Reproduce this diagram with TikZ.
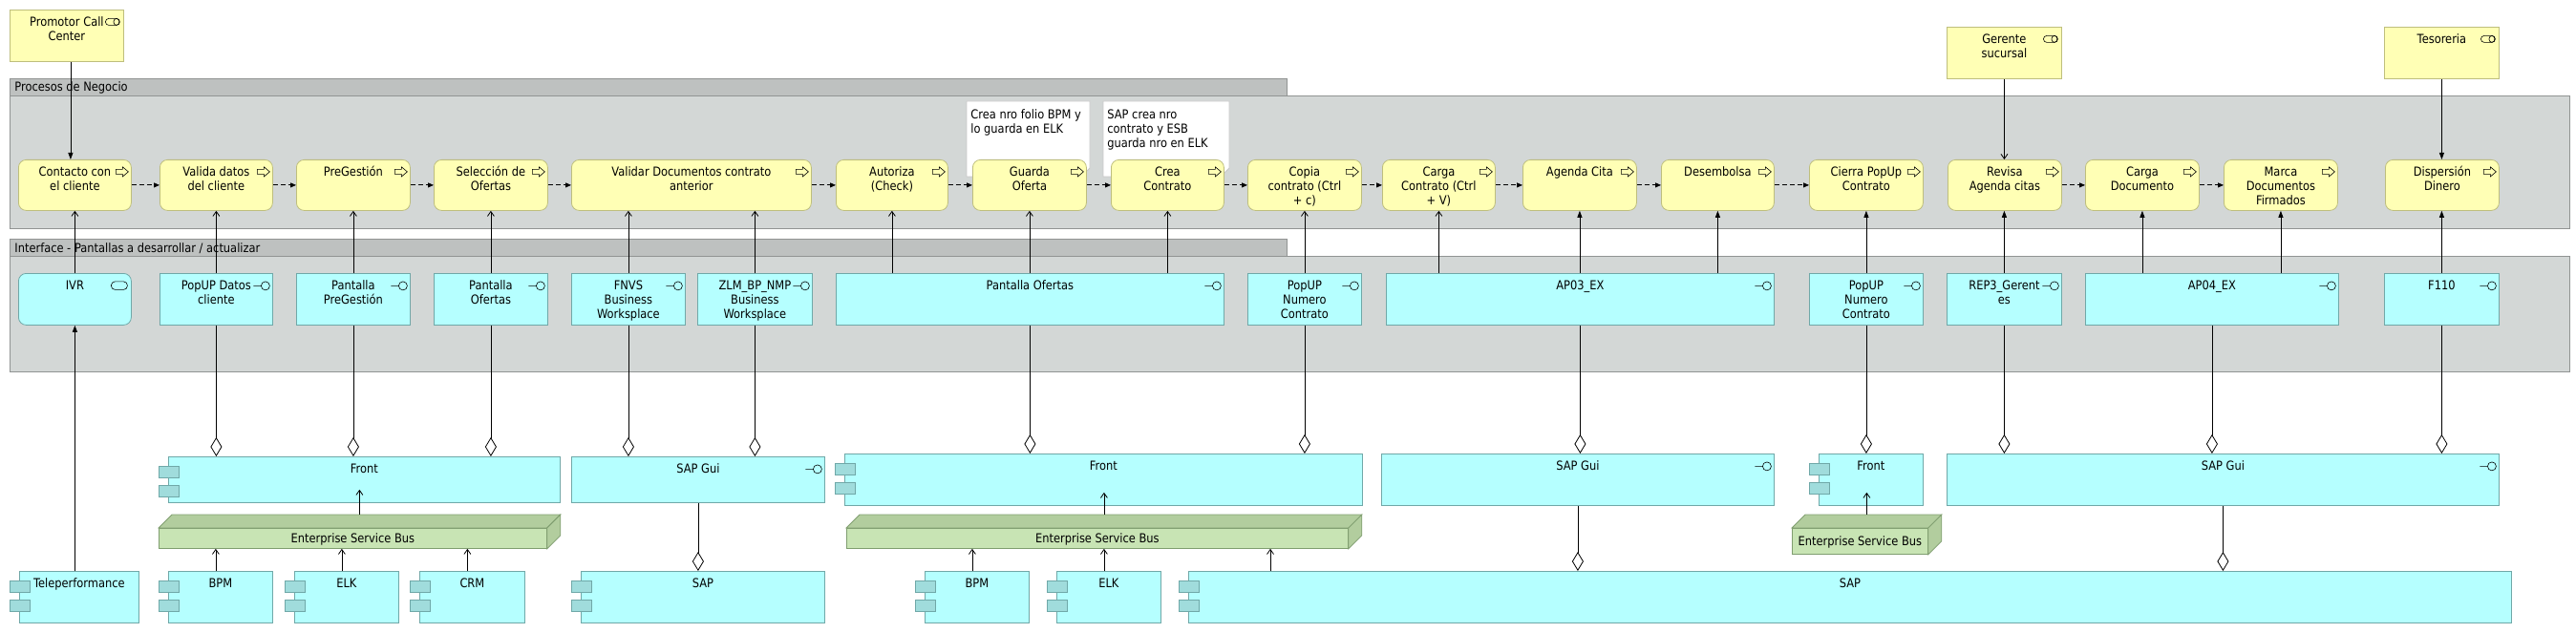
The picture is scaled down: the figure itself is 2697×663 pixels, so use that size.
\documentclass[tikz,border=0pt]{standalone}
\usepackage{fontspec}
\setmainfont{DejaVu Sans}[FakeStretch=0.88]
\usetikzlibrary{arrows.meta}

\definecolor{procfill}{RGB}{255,255,181}
\definecolor{procline}{RGB}{190,190,125}
\definecolor{appfill}{RGB}{181,255,255}
\definecolor{appline}{RGB}{112,168,168}
\definecolor{tabfill}{RGB}{160,220,220}
\definecolor{grpbody}{RGB}{211,215,214}
\definecolor{grphead}{RGB}{190,193,192}
\definecolor{grpline}{RGB}{145,148,147}
\definecolor{esbfront}{RGB}{200,228,180}
\definecolor{esbside}{RGB}{178,205,158}
\definecolor{esbline}{RGB}{128,158,112}
\definecolor{noteline}{RGB}{200,200,200}

\newcommand{\tstrut}{\rule{0pt}{10pt}}
\newcommand{\comptabs}[1]{%
  \draw[tab] ([shift={(-10pt,-10pt)}]#1.north west) rectangle ++(21pt,-12pt);
  \draw[tab] ([shift={(-10pt,-30pt)}]#1.north west) rectangle ++(21pt,-12pt);}
\newcommand{\nodedepth}[1]{%
  \draw[esbtop] (#1.north west) -- ++(14pt,14pt) -- ([shift={(14pt,14pt)}]#1.north east) -- (#1.north east) -- cycle;
  \draw[esbtop] (#1.north east) -- ++(14pt,14pt) -- ([shift={(14pt,14pt)}]#1.south east) -- (#1.south east) -- cycle;}

\tikzset{
  boxtext/.style={anchor=north, yshift=-7pt, align=center, inner sep=0pt},
  txt/.style={label={[boxtext]north:{\tstrut #1}}},
  elem/.style={anchor=north west, inner sep=0pt, minimum height=54pt},
  grp/.style={draw=grpline},
  role/.style={elem, draw=procline, fill=procfill, path picture={
      \draw[black, line width=0.6pt, rounded corners=3.5pt] ([shift={(-19pt,-9pt)}]path picture bounding box.north east) rectangle ++(15pt,-7pt);
      \draw[black, line width=0.6pt] ([shift={(-7.5pt,-12.5pt)}]path picture bounding box.north east) ellipse[x radius=3pt, y radius=3.5pt];}},
  proc/.style={elem, minimum height=53pt, rounded corners=8pt, draw=procline, fill=procfill, path picture={
      \draw[black, line width=0.6pt, sharp corners] ([shift={(-16pt,-10pt)}]path picture bounding box.north east)
        -- ++(7pt,0pt) -- ++(0pt,2.5pt) -- ++(6pt,-5pt) -- ++(-6pt,-5pt) -- ++(0pt,2.5pt) -- ++(-7pt,0pt) -- cycle;}},
  intf/.style={elem, draw=appline, fill=appfill, path picture={
      \draw[black, line width=0.6pt] ([shift={(-20pt,-13pt)}]path picture bounding box.north east)
        -- ++(8pt,0pt) ++(4.5pt,0pt) circle[radius=4.5pt];}},
  svc/.style={elem, rounded corners=8pt, draw=appline, fill=appfill, path picture={
      \draw[black, line width=0.6pt, rounded corners=4pt] ([shift={(-21pt,-8.5pt)}]path picture bounding box.north east) rectangle ++(17pt,-8.5pt);}},
  comp/.style={elem, draw=appline, fill=appfill},
  tab/.style={draw=appline, fill=tabfill},
  esb/.style={anchor=north west, inner sep=0pt, minimum height=21pt, text depth=0pt, draw=esbline, fill=esbfront},
  esbtop/.style={draw=esbline, fill=esbside},
  flow/.style={dash pattern=on 5pt off 3pt, -{Triangle[length=6pt,width=5pt]}},
  trig/.style={-{Triangle[length=7pt,width=5pt]}},
  used/.style={-{Straight Barb[length=5pt,width=7pt]}},
  aggr/.style={-{Diamond[open,length=20pt,width=12pt]}}
}

\begin{document}
\begin{tikzpicture}[x=1pt, y=-1pt, font=\fontsize{13}{15}\selectfont, line width=0.8pt]
\useasboundingbox (0,0) rectangle (2697,663);

% Groups
\draw[grp, fill=grphead] (10,82) rectangle (1347,100);
\draw[grp, fill=grpbody] (10,100) rectangle (2690,239);
\node[anchor=base west, inner sep=0pt] (tproc) at (15,96) {Procesos de Negocio};
\draw[grp, fill=grphead] (10,250) rectangle (1347,268);
\draw[grp, fill=grpbody] (10,268) rectangle (2690,389);
\node[anchor=base west, inner sep=0pt] (tintf) at (15,264) {Interface - Pantallas a desarrollar / actualizar};

% Actors
\node[role, minimum width=119pt, txt={Promotor Call\\Center}] (promotor) at (10,10) {};
\node[role, minimum width=120pt, txt={Gerente\\sucursal}] (gerente) at (2038,28) {};
\node[role, minimum width=120pt, txt={Tesoreria}] (tesoreria) at (2496,28) {};

% Notes
\draw[noteline, fill=white] (1012,106) -- (1141,106) -- (1141,176) -- (1132,185) -- (1012,185) -- cycle;
\node[anchor=north west, inner sep=0pt, align=left] (noteA) at (1016,114) {\tstrut Crea nro folio BPM y\\lo guarda en ELK};
\draw[noteline, fill=white] (1155,106) -- (1287,106) -- (1287,176) -- (1278,185) -- (1155,185) -- cycle;
\node[anchor=north west, inner sep=0pt, align=left] (noteB) at (1159,114) {\tstrut SAP crea nro\\contrato y ESB\\guarda nro en ELK};

% Business processes
\node[proc, minimum width=118pt, txt={Contacto con\\el cliente}] (contacto) at (19,167) {};
\node[proc, minimum width=118pt, txt={Valida datos\\del cliente}] (valida) at (167,167) {};
\node[proc, minimum width=119pt, txt={PreGestión}] (pregestion) at (310,167) {};
\node[proc, minimum width=119pt, txt={Selección de\\Ofertas}] (seleccion) at (454,167) {};
\node[proc, minimum width=251pt, txt={Validar Documentos contrato\\anterior}] (valdoc) at (598,167) {};
\node[proc, minimum width=117pt, txt={Autoriza\\(Check)}] (autoriza) at (875,167) {};
\node[proc, minimum width=119pt, txt={Guarda\\Oferta}] (guarda) at (1018,167) {};
\node[proc, minimum width=118pt, txt={Crea\\Contrato}] (crea) at (1163,167) {};
\node[proc, minimum width=119pt, txt={Copia\\contrato (Ctrl\\+ c)}] (copia) at (1306,167) {};
\node[proc, minimum width=118pt, txt={Carga\\Contrato (Ctrl\\+ V)}] (carga) at (1447,167) {};
\node[proc, minimum width=119pt, txt={Agenda Cita}] (agenda) at (1594,167) {};
\node[proc, minimum width=118pt, txt={Desembolsa}] (desembolsa) at (1739,167) {};
\node[proc, minimum width=119pt, txt={Cierra PopUp\\Contrato}] (cierra) at (1894,167) {};
\node[proc, minimum width=119pt, txt={Revisa\\Agenda citas}] (revisa) at (2039,167) {};
\node[proc, minimum width=119pt, txt={Carga\\Documento}] (cargadoc) at (2183,167) {};
\node[proc, minimum width=119pt, txt={Marca\\Documentos\\Firmados}] (marca) at (2328,167) {};
\node[proc, minimum width=119pt, txt={Dispersión\\Dinero}] (dispersion) at (2497,167) {};

% Interfaces (screens)
\node[svc, minimum width=118pt, txt={IVR}] (ivr) at (19,286) {};
\node[intf, minimum width=118pt, txt={PopUP Datos\\cliente}] (popdatos) at (167,286) {};
\node[intf, minimum width=119pt, txt={Pantalla\\PreGestión}] (ppregestion) at (310,286) {};
\node[intf, minimum width=119pt, txt={Pantalla\\Ofertas}] (pofertasA) at (454,286) {};
\node[intf, minimum width=119pt, txt={FNVS\\Business\\Worksplace}] (fnvs) at (598,286) {};
\node[intf, minimum width=120pt, txt={ZLM\_BP\_NMP\\Business\\Worksplace}] (zlm) at (730,286) {};
\node[intf, minimum width=406pt, txt={Pantalla Ofertas}] (pofertasB) at (875,286) {};
\node[intf, minimum width=119pt, txt={PopUP\\Numero\\Contrato}] (popnumA) at (1306,286) {};
\node[intf, minimum width=406pt, txt={AP03\_EX}] (ap03) at (1451,286) {};
\node[intf, minimum width=119pt, txt={PopUP\\Numero\\Contrato}] (popnumB) at (1894,286) {};
\node[intf, minimum width=120pt, txt={REP3\_Gerent\\es}] (rep3) at (2038,286) {};
\node[intf, minimum width=265pt, txt={AP04\_EX}] (ap04) at (2183,286) {};
\node[intf, minimum width=120pt, txt={F110}] (f110) at (2496,286) {};

% Application layer
\node[comp, minimum width=410pt, minimum height=48pt, txt={Front}] (frontA) at (176,478) {};
\comptabs{frontA}
\node[intf, minimum width=265pt, minimum height=48pt, txt={SAP Gui}] (sapguiA) at (598,478) {};
\node[comp, minimum width=542pt, txt={Front}] (frontB) at (884,475) {};
\comptabs{frontB}
\node[intf, minimum width=411pt, txt={SAP Gui}] (sapguiB) at (1446,475) {};
\node[comp, minimum width=109pt, txt={Front}] (frontC) at (1904,475) {};
\comptabs{frontC}
\node[intf, minimum width=578pt, txt={SAP Gui}] (sapguiC) at (2038,475) {};

% Enterprise service bus
\node[esb, minimum width=406pt] (esbA) at (166,553) {Enterprise Service Bus};
\nodedepth{esbA}
\node[esb, minimum width=525pt] (esbB) at (886,553) {Enterprise Service Bus};
\nodedepth{esbB}
\node[esb, minimum width=142pt, minimum height=27pt] (esbC) at (1876,553) {Enterprise Service Bus};
\nodedepth{esbC}

% Back-end components
\node[comp, minimum width=125pt, txt={Teleperformance}] (tele) at (20,598) {};
\comptabs{tele}
\node[comp, minimum width=109pt, txt={BPM}] (bpmA) at (176,598) {};
\comptabs{bpmA}
\node[comp, minimum width=109pt, txt={ELK}] (elkA) at (308,598) {};
\comptabs{elkA}
\node[comp, minimum width=110pt, txt={CRM}] (crmA) at (439,598) {};
\comptabs{crmA}
\node[comp, minimum width=255pt, txt={SAP}] (sapA) at (608,598) {};
\comptabs{sapA}
\node[comp, minimum width=109pt, txt={BPM}] (bpmB) at (968,598) {};
\comptabs{bpmB}
\node[comp, minimum width=109pt, txt={ELK}] (elkB) at (1106,598) {};
\comptabs{elkB}
\node[comp, minimum width=1385pt, txt={SAP}] (sapB) at (1244,598) {};
\comptabs{sapB}

% Flow between processes
\foreach \a/\b in {contacto/valida, valida/pregestion, pregestion/seleccion, seleccion/valdoc,
  valdoc/autoriza, autoriza/guarda, guarda/crea, crea/copia, copia/carga, carga/agenda,
  agenda/desembolsa, desembolsa/cierra, revisa/cargadoc, cargadoc/marca}
  \draw[flow] (\a) -- (\b);

% Actors -> processes
\draw[trig] ([xshift=4pt]promotor.south) -- ([xshift=4pt]promotor.south |- contacto.north);
\draw[used] (gerente.south) -- (gerente.south |- revisa.north);
\draw[trig] (tesoreria.south) -- (tesoreria.south |- dispersion.north);

% Interfaces -> processes
\draw[used] (ivr.north) -- (ivr.north |- contacto.south);
\draw[used] (popdatos.north) -- (popdatos.north |- valida.south);
\draw[used] (ppregestion.north) -- (ppregestion.north |- pregestion.south);
\draw[used] (pofertasA.north) -- (pofertasA.north |- seleccion.south);
\draw[used] (fnvs.north) -- (fnvs.north |- valdoc.south);
\draw[used] (zlm.north) -- (zlm.north |- valdoc.south);
\draw[used] (pofertasB.north -| autoriza.south) -- (autoriza.south);
\draw[used] (pofertasB.north -| guarda.south) -- (guarda.south);
\draw[used] (pofertasB.north -| crea.south) -- (crea.south);
\draw[used] (popnumA.north) -- (popnumA.north |- copia.south);
\draw[used] (ap03.north -| carga.south) -- (carga.south);
\draw[trig] (ap03.north -| agenda.south) -- (agenda.south);
\draw[trig] (ap03.north -| desembolsa.south) -- (desembolsa.south);
\draw[trig] (popnumB.north) -- (popnumB.north |- cierra.south);
\draw[trig] (rep3.north) -- (rep3.north |- revisa.south);
\draw[trig] (ap04.north -| cargadoc.south) -- (cargadoc.south);
\draw[trig] (ap04.north -| marca.south) -- (marca.south);
\draw[trig] (f110.north) -- (f110.north |- dispersion.south);
\draw[trig] (ivr.south |- tele.north) -- (ivr.south);

% Interfaces -> application (aggregation)
\draw[aggr] (popdatos.south) -- (popdatos.south |- frontA.north);
\draw[aggr] (ppregestion.south) -- (ppregestion.south |- frontA.north);
\draw[aggr] (pofertasA.south) -- (pofertasA.south |- frontA.north);
\draw[aggr] (fnvs.south) -- (fnvs.south |- sapguiA.north);
\draw[aggr] (zlm.south) -- (zlm.south |- sapguiA.north);
\draw[aggr] (pofertasB.south) -- (pofertasB.south |- frontB.north);
\draw[aggr] (popnumA.south) -- (popnumA.south |- frontB.north);
\draw[aggr] (ap03.south) -- (ap03.south |- sapguiB.north);
\draw[aggr] (popnumB.south) -- (popnumB.south |- frontC.north);
\draw[aggr] (rep3.south) -- (rep3.south |- sapguiC.north);
\draw[aggr] (ap04.south) -- (ap04.south |- sapguiC.north);
\draw[aggr] (f110.south) -- (f110.south |- sapguiC.north);
\draw[aggr] (sapguiA.south) -- (sapguiA.south |- sapA.north);
\draw[aggr] (sapguiB.south) -- (sapguiB.south |- sapB.north);
\draw[aggr] (sapguiC.south) -- (sapguiC.south |- sapB.north);

% Bus connections
\draw[used] ([shift={(7pt,14pt)}]esbA.north) -- ([shift={(7pt,14pt)}]esbA.north |- frontA.south);
\draw[used] ([shift={(7pt,14pt)}]esbB.north) -- ([shift={(7pt,14pt)}]esbB.north |- frontB.south);
\draw[used] ([shift={(7pt,14pt)}]esbC.north) -- ([shift={(7pt,14pt)}]esbC.north |- frontC.south);
\draw[used] ([xshift=-5pt]bpmA.north) -- ([xshift=-5pt]bpmA.north |- esbA.south);
\draw[used] ([xshift=-5pt]elkA.north) -- ([xshift=-5pt]elkA.north |- esbA.south);
\draw[used] ([xshift=-5pt]crmA.north) -- ([xshift=-5pt]crmA.north |- esbA.south);
\draw[used] ([xshift=-5pt]bpmB.north) -- ([xshift=-5pt]bpmB.north |- esbB.south);
\draw[used] ([xshift=-5pt]elkB.north) -- ([xshift=-5pt]elkB.north |- esbB.south);
\draw[used] ([xshift=86pt]sapB.north west) -- ([xshift=86pt]sapB.north west |- esbB.south);
\end{tikzpicture}
\end{document}
